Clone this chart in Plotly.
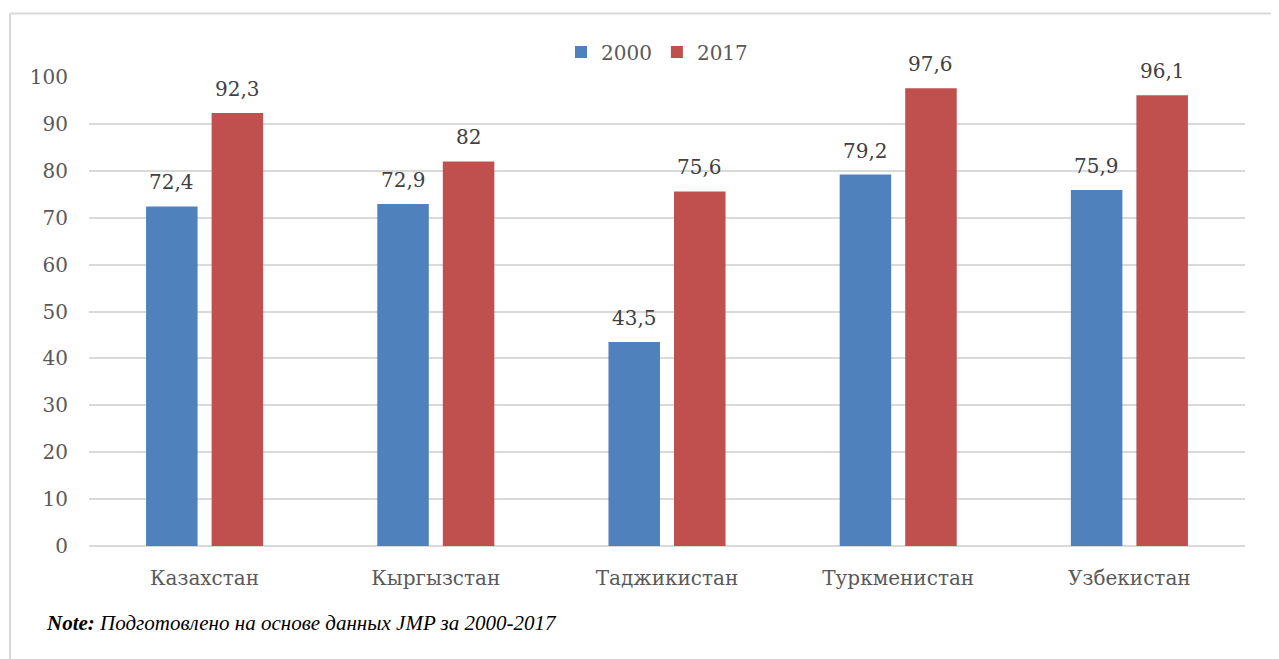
import plotly.graph_objects as go

categories = ["Казахстан", "Кыргызстан", "Таджикистан", "Туркменистан", "Узбекистан"]
series_names = ["2000", "2017"]
values_2000 = [72.4, 72.9, 43.5, 79.2, 75.9]
values_2017 = [92.3, 82.0, 75.6, 97.6, 96.1]
colors = ["#4F81BD", "#C0504D"]
y_ticks = [0, 10, 20, 30, 40, 50, 60, 70, 80, 90, 100]

def fmt(v):
    s = ("%.1f" % v).rstrip("0").rstrip(".")
    return s.replace(".", ",")

FONT = "DejaVu Serif"
FS = 20
OFF = 8  # default browser body margin

# screen-space layout (reference pixels)
SW, SH = 1279, 659
plot_left, plot_right, plot_top, plot_bottom = 89, 1245, 77, 546
W, H = SW - OFF, SH - OFF
L = plot_left - OFF
R = W - (plot_right - OFF)
T = plot_top - OFF
B = H - (plot_bottom - OFF)
pw, ph = W - L - R, H - T - B
def px(xs): return (xs - OFF - L) / pw
def py(ys): return (H - B - (ys - OFF)) / ph

BARGAP = 0.433
BARGROUPGAP = 0.214
slot = pw / len(categories) * (1 - BARGAP) / 2
shifts = [-slot / 2, slot / 2]

fig = go.Figure()
annotations = []
for name, vals, col, sh in zip(series_names, [values_2000, values_2017], colors, shifts):
    fig.add_trace(go.Bar(
        x=categories, y=vals, name=name,
        marker=dict(color=col, line=dict(width=0)),
    ))
    for c, v in zip(categories, vals):
        annotations.append(dict(
            x=c, y=v, xref="x", yref="y", text=fmt(v), showarrow=False,
            xanchor="center", yanchor="bottom", xshift=sh, yshift=10,
            font=dict(family=FONT, size=FS, color="#404040"),
        ))

annotations.append(dict(
    xref="paper", yref="paper", x=px(44), y=py(623), xanchor="left", yanchor="middle",
    showarrow=False,
    text="<b><i>Note:</i></b><i> Подготовлено на основе данных JMP за 2000-2017</i>",
    font=dict(family="Liberation Serif", size=21, color="#000000"),
))

fig.update_layout(
    width=W, height=H,
    margin=dict(l=L, r=R, t=T, b=B),
    paper_bgcolor="white", plot_bgcolor="white",
    barmode="group", bargap=BARGAP, bargroupgap=BARGROUPGAP,
    font=dict(family=FONT, size=FS, color="#595959"),
    legend=dict(orientation="h", x=px(657), xanchor="center", y=py(52), yanchor="middle",
                font=dict(family=FONT, size=FS, color="#595959"),
                itemwidth=30, tracegroupgap=0, bgcolor="rgba(0,0,0,0)"),
    xaxis=dict(showgrid=False, showline=False, ticks="", ticklabelstandoff=18,
               tickfont=dict(family=FONT, size=FS, color="#595959")),
    yaxis=dict(range=[0, 100], tickvals=y_ticks, showgrid=True, gridcolor="#D9D9D9",
               gridwidth=2, zeroline=True, zerolinecolor="#D9D9D9", zerolinewidth=2,
               showline=False, ticks="", ticklabelstandoff=20,
               tickfont=dict(family=FONT, size=FS, color="#595959")),
    shapes=[
        dict(type="line", xref="paper", yref="paper", x0=px(10), x1=px(1300), y0=py(13.5), y1=py(13.5),
             line=dict(color="#D9D9D9", width=2)),
        dict(type="line", xref="paper", yref="paper", x0=px(10), x1=px(10), y0=py(13.5), y1=py(680),
             line=dict(color="#D9D9D9", width=2)),
    ],
    annotations=annotations,
)

fig.write_html("out.html")
